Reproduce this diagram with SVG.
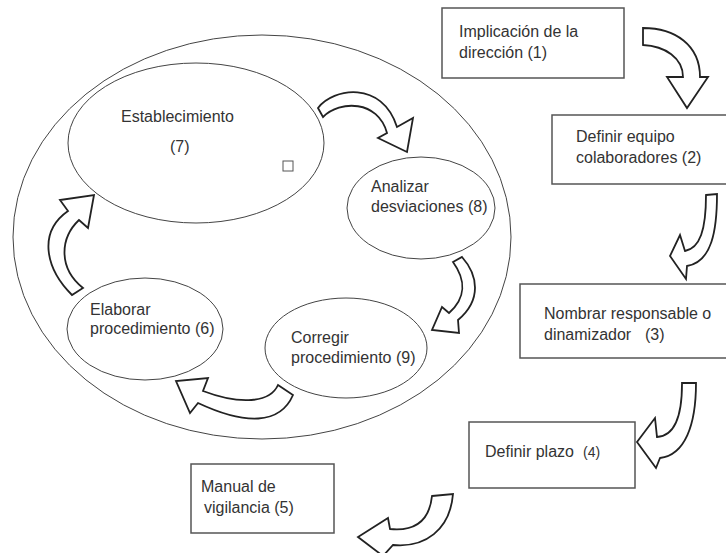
<svg xmlns="http://www.w3.org/2000/svg" width="726" height="553" viewBox="0 0 726 553">
  <style>
    .box { fill: #fff; stroke: #555; stroke-width: 1.5; }
    .oval { fill: #fff; stroke: #444; stroke-width: 1; }
    .arrow { fill: #fff; stroke: #222; stroke-width: 1.8; stroke-linejoin: miter; }
    text { font-family: "Liberation Sans", Arial, sans-serif; font-size: 16px; fill: #333; }
    .small { font-size: 14px; }
  </style>
  <rect width="726" height="553" fill="#fff"/>

  <!-- improvement cycle container -->
  <g id="cycle">
    <ellipse class="oval" cx="262" cy="237" rx="249" ry="202"/>
  </g>

  <g id="n1">
    <rect class="box" x="442" y="8" width="182" height="70"/>
    <text x="459" y="37">Implicación de la</text>
    <text x="459" y="58">dirección (1)</text>
  </g>
  <g id="n2">
    <rect class="box" x="552" y="115" width="180" height="69"/>
    <text x="576" y="142">Definir equipo</text>
    <text x="576" y="163">colaboradores (2)</text>
  </g>
  <g id="n3">
    <rect class="box" x="520" y="284" width="212" height="74"/>
    <text x="544" y="319">Nombrar responsable o</text>
    <text x="544" y="340">dinamizador <tspan x="645">(3)</tspan></text>
  </g>
  <g id="n4">
    <rect class="box" x="469" y="422" width="166" height="66"/>
    <text x="485" y="457">Definir plazo <tspan class="small" x="583">(4)</tspan></text>
  </g>
  <g id="n5">
    <rect class="box" x="191" y="464" width="143" height="69"/>
    <text x="201" y="492">Manual de</text>
    <text x="204" y="513">vigilancia (5)</text>
  </g>
  <g id="n7">
    <ellipse class="oval" cx="196" cy="143" rx="128" ry="80"/>
    <text x="121" y="122">Establecimiento</text>
    <text x="170" y="152">(7)</text>
    <rect x="283" y="161" width="10" height="10" fill="#fff" stroke="#555" stroke-width="1"/>
  </g>
  <g id="n8">
    <ellipse class="oval" cx="421" cy="208" rx="74" ry="51"/>
    <text x="371" y="192">Analizar</text>
    <text x="371" y="212">desviaciones (8)</text>
  </g>
  <g id="n6">
    <ellipse class="oval" cx="145" cy="329" rx="78" ry="51"/>
    <text x="90" y="315">Elaborar</text>
    <text x="90" y="334">procedimiento (6)</text>
  </g>
  <g id="n9">
    <ellipse class="oval" cx="346" cy="348" rx="81" ry="50"/>
    <text x="291" y="343">Corregir</text>
    <text x="291" y="363">procedimiento (9)</text>
  </g>

  <!-- curved block arrows -->
  <g id="connectors">
    <path class="arrow" d="M643,28 C675,28 700,45 700,77 L708,77 L687,108 L667,77 L683,77 C683,58 665,46 643,45 Z"/>
    <path class="arrow" d="M706,195 L717,194 C717,230 712,262 687,266 L686,279 L670,256 L680,235 L685,251 C700,248 706,230 706,195 Z"/>
    <path class="arrow" d="M682,383 L696,383 C696,425 685,455 660,458 L656,468 L637,442 L655,418 L657,437 C675,436 682,415 682,384 Z"/>
    <path class="arrow" d="M432,496 L453,494 C450,530 425,548 393,545 L383,556 L358,537 L388,518 L390,529 C420,532 430,515 432,496 Z"/>
    <path class="arrow" d="M318,108 C333,88 382,80 397,127 L413,118 L407,152 L378,138 L387,133 C378,100 340,100 323,117 Z"/>
    <path class="arrow" d="M453,262 L462,257 C478,275 482,300 458,320 L459,333 L432,330 L442,307 L449,313 C466,298 466,280 453,262 Z"/>
    <path class="arrow" d="M278,385 L293,395 C280,425 245,425 198,403 L190,413 L176,381 L208,378 L203,391 C240,405 270,403 278,385 Z"/>
    <path class="arrow" d="M72,295 C45,268 38,232 68,211 L60,200 L94,195 L88,228 L79,220 C60,238 58,268 83,288 Z"/>
  </g>
</svg>
